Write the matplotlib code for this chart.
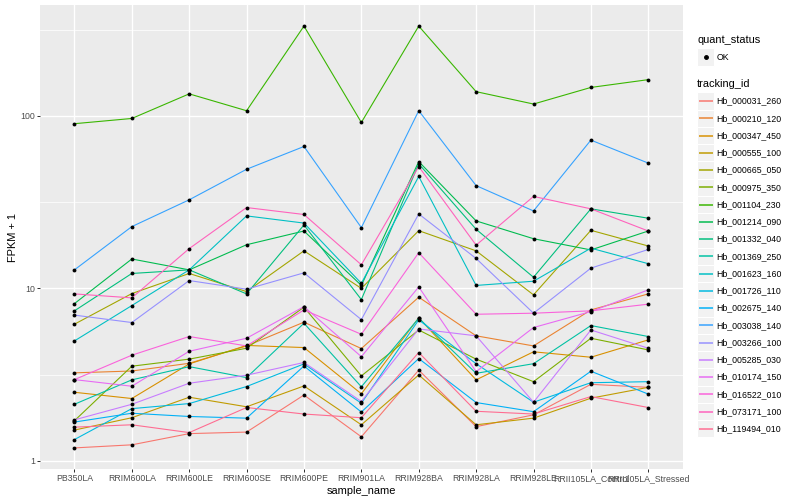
import matplotlib
matplotlib.use("Agg")
import matplotlib.pyplot as plt
from matplotlib.patches import Rectangle
import numpy as np

plt.rcParams["font.family"] = ["Liberation Sans", "DejaVu Sans"]

# --- data (FPKM + 1) ---------------------------------------------------------
samples = ["PB350LA", "RRIM600LA", "RRIM600LE", "RRIM600SE", "RRIM600PE",
           "RRIM901LA", "RRIM928BA", "RRIM928LA", "RRIM928LE",
           "RRII105LA_Control", "RRII105LA_Stressed"]

hb_000031_260 = [1.19, 1.24, 1.44, 1.47, 2.41, 1.38, 3.36, 1.58, 1.85, 2.78, 2.67]
hb_000210_120 = [3.24, 3.32, 3.68, 4.64, 6.37, 4.48, 8.89, 5.31, 4.64, 7.5, 9.29]
hb_000347_450 = [2.50, 2.30, 3.65, 4.67, 4.54, 2.45, 6.75, 2.95, 4.29, 3.99, 5.03]
hb_000555_100 = [1.51, 1.78, 2.34, 2.06, 2.72, 1.62, 3.15, 1.62, 1.77, 2.31, 2.67]
hb_000665_050 = [6.2, 9.33, 12.2, 9.58, 16.5, 10.0, 21.6, 16.5, 9.17, 21.7, 17.6]
hb_000975_350 = [1.71, 3.54, 3.89, 4.50, 7.78, 3.11, 5.74, 3.89, 2.88, 5.14, 4.40]
hb_001104_230 = [90, 96.5, 134, 107, 331, 91.5, 331, 138, 117, 146, 162]
hb_001214_090 = [8.16, 14.8, 12.8, 17.9, 21.5, 10.4, 54.3, 24.6, 19.4, 16.7, 21.5]
hb_001332_040 = [7.41, 12.2, 12.8, 9.29, 23.3, 8.61, 52.7, 22.0, 11.6, 28.9, 25.5]
hb_001369_250 = [2.13, 2.95, 3.52, 3.04, 6.28, 2.69, 6.72, 3.22, 3.66, 6.09, 5.26]
hb_001623_160 = [4.96, 7.95, 12.8, 26.3, 23.9, 10.7, 44.5, 10.4, 11.0, 17.1, 13.9]
hb_001726_110 = [1.33, 2.01, 2.15, 2.70, 3.65, 2.16, 6.57, 3.66, 2.19, 2.84, 2.88]
hb_002675_140 = [1.68, 1.89, 1.81, 1.77, 3.55, 1.92, 3.92, 2.18, 1.93, 3.31, 2.44]
hb_003038_140 = [12.8, 22.8, 32.6, 49, 66.4, 22.5, 107, 39.4, 28.1, 72.3, 53.2]
hb_003266_100 = [7.0, 6.34, 11.1, 9.89, 12.3, 6.59, 27.0, 14.9, 7.18, 13.1, 16.8]
hb_005285_030 = [1.73, 2.13, 2.82, 3.14, 3.72, 2.21, 5.82, 5.31, 2.19, 5.74, 4.50]
hb_010174_150 = [2.96, 2.71, 4.32, 5.14, 7.84, 4.02, 10.2, 3.29, 5.93, 7.34, 9.80]
hb_016522_010 = [2.96, 4.10, 5.26, 4.64, 7.5, 5.42, 16.1, 7.08, 7.18, 7.41, 8.10]
hb_073171_100 = [9.29, 8.81, 17.0, 29.4, 26.8, 13.7, 50.8, 17.8, 34.1, 28.9, 21.5]
hb_119494_010 = [1.57, 1.62, 1.46, 2.04, 1.87, 1.78, 4.25, 1.94, 1.87, 2.36, 2.04]

tracking_ids = ["Hb_000031_260", "Hb_000210_120", "Hb_000347_450", "Hb_000555_100",
                "Hb_000665_050", "Hb_000975_350", "Hb_001104_230", "Hb_001214_090",
                "Hb_001332_040", "Hb_001369_250", "Hb_001623_160", "Hb_001726_110",
                "Hb_002675_140", "Hb_003038_140", "Hb_003266_100", "Hb_005285_030",
                "Hb_010174_150", "Hb_016522_010", "Hb_073171_100", "Hb_119494_010"]

series = [hb_000031_260, hb_000210_120, hb_000347_450, hb_000555_100, hb_000665_050,
          hb_000975_350, hb_001104_230, hb_001214_090, hb_001332_040, hb_001369_250,
          hb_001623_160, hb_001726_110, hb_002675_140, hb_003038_140, hb_003266_100,
          hb_005285_030, hb_010174_150, hb_016522_010, hb_073171_100, hb_119494_010]

# ggplot2 default hue palette for 20 levels
colors = ["#F8766D", "#EA8331", "#D89000", "#C09B00", "#A3A500", "#7CAE00", "#39B600",
          "#00BB4E", "#00BF7D", "#00C1A3", "#00BFC4", "#00BAE0", "#00B0F6", "#35A2FF",
          "#9590FF", "#C77CFF", "#E76BF3", "#FA62DB", "#FF62BC", "#FF6C91"]

# --- figure (72 dpi so ggplot pt sizes map to pixels) ------------------------
W, H = 800, 500
fig = plt.figure(figsize=(W / 72, H / 72), dpi=72)
ax = fig.add_axes([40 / W, 1 - 469 / H, (682.7 - 40) / W, (469 - 5) / H])

x = np.arange(len(samples))
for vals, col in zip(series, colors):
    ax.plot(x, vals, color=col, lw=1.1, zorder=2)
for vals in series:
    ax.scatter(x, vals, s=15, color="black", linewidths=0, zorder=3)

ax.set_yscale("log")
allv = np.log10(np.concatenate([np.asarray(s, float) for s in series]))
pad = 0.05 * (allv.max() - allv.min())
ax.set_ylim(10 ** (allv.min() - pad), 10 ** (allv.max() + pad))
ax.set_xlim(-0.6, len(samples) - 0.4)

ax.set_facecolor("#EBEBEB")
for s in ax.spines.values():
    s.set_visible(False)
ax.set_yticks([1, 10, 100])
ax.set_yticklabels(["1", "10", "100"])
ax.set_yticks([10 ** 0.5, 10 ** 1.5, 10 ** 2.5], minor=True)
ax.yaxis.set_minor_formatter(matplotlib.ticker.NullFormatter())
ax.set_xticks(x)
ax.set_xticklabels(samples)
ax.grid(True, which="major", color="white", lw=1.4)
ax.grid(True, which="minor", axis="y", color="white", lw=0.7)
ax.tick_params(which="major", length=2.75, width=1, color="#333333",
               labelcolor="#4D4D4D", labelsize=8.8, pad=2.2)
ax.tick_params(which="minor", length=0)
ax.set_axisbelow(True)
ax.set_xlabel("sample_name", fontsize=11, labelpad=2.75)
ax.set_ylabel("FPKM + 1", fontsize=11, labelpad=2.75)

# --- legends drawn in pixel coordinates ---------------------------------------
lax = fig.add_axes([0, 0, 1, 1])
lax.set_xlim(0, W)
lax.set_ylim(H, 0)
lax.axis("off")

kx, kw = 697, 17
lax.text(kx, 40, "quant_status", fontsize=11, va="center", ha="left")
lax.add_patch(Rectangle((kx, 57 - 8.6), kw, 17.2, facecolor="#F2F2F2",
                        edgecolor="white", lw=1))
lax.plot([kx + kw / 2], [57], "o", color="black", ms=3.8)
lax.text(kx + 19.7, 57, "OK", fontsize=8.8, va="center", ha="left")

lax.text(kx, 84, "tracking_id", fontsize=11, va="center", ha="left")
step = 17.25
for i, (tid, col) in enumerate(zip(tracking_ids, colors)):
    cy = 101 + step * i
    lax.add_patch(Rectangle((kx, cy - step / 2), kw, step, facecolor="#F2F2F2",
                            edgecolor="white", lw=1))
    lax.plot([kx + 1.5, kx + kw - 1.5], [cy, cy], color=col, lw=1.5,
             solid_capstyle="butt")
    lax.text(kx + 19.7, cy, tid, fontsize=8.8, va="center", ha="left")

fig.savefig("out.png", dpi=72, facecolor="white")
